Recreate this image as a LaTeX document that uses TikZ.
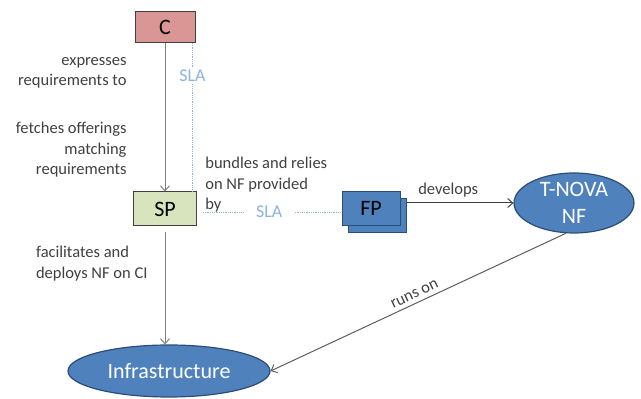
\documentclass[tikz,border=0pt]{standalone}
\usepackage{fontspec}
\setmainfont{Carlito}
\usetikzlibrary{shapes.geometric, arrows.meta, positioning}

\definecolor{custred}{HTML}{D99694}
\definecolor{spgreen}{HTML}{D7E4BD}
\definecolor{nfblue}{HTML}{4F81BD}
\definecolor{nfborder}{HTML}{2C4D75}
\definecolor{slablue}{HTML}{8DB3E2}
\definecolor{txtgray}{HTML}{404040}
\definecolor{arrgray}{HTML}{7F7F7F}

\begin{document}
\begin{tikzpicture} [x=1pt, y=1pt, thick, align=center, ->, >={Straight Barb[length=5pt,width=9pt]},
	box/.style={draw=txtgray, line width=1pt, minimum width=60pt, minimum height=31pt, inner sep=0pt, font=\fontsize{22}{27}\selectfont, text=black},
	blob/.style={ellipse, draw=nfborder, line width=1.2pt, fill=nfblue, text=white, inner sep=0pt, font=\fontsize{22}{27}\selectfont},
	lbl/.style={font=\fontsize{16.5}{20.5}\selectfont, text=txtgray, inner sep=2pt},
	sla/.style={-, slablue, densely dotted, line width=0.8pt},
	slatext/.style={font=\fontsize{18}{20}\selectfont, text=slablue, fill=white}]

\useasboundingbox (0,0) rectangle (641,399);

\node[box, fill=custred]	(c)	at (165,372)	{C};
\node[box, fill=spgreen, minimum width=63pt, minimum height=34pt]	(sp)	at (165,190)	{SP};
\node[box, fill=nfblue, draw=nfborder, minimum width=58pt, minimum height=34pt]	(fpback)	at (377,183.5)	{};
\node[box, fill=nfblue, draw=nfborder, minimum width=58pt, minimum height=34pt]	(fp)	at (371,190.5)	{FP};
\node[blob, minimum width=120pt, minimum height=60pt]	(tnova)	at (574,196)	{T-NOVA\\NF};
\node[blob, minimum width=202pt, minimum height=52pt]	(infra)	at (169,28)	{Infrastructure};

\path[->, arrgray, line width=1pt]
		(c)	edge		node	[lbl, pos=0.2, left=36pt, align=right]	{expresses\\requirements to}
				node	[lbl, pos=0.72, left=36pt, align=right]	{fetches offerings\\matching\\requirements}	(sp)
		(sp)	edge	[shorten <=6pt]	node	[lbl, pos=0.315, left=15pt, align=left]	{facilitates and\\deploys NF on CI}	(sp |- infra.north)
;

\path[->, txtgray, line width=1pt]
		(fpback.east |- tnova)	edge		node	[lbl, pos=0.39, above=3pt]	{develops}	(tnova)
;

\path[->, txtgray!85, line width=1pt]
		(tnova.255)	edge		node	[lbl, sloped, above=2pt]	{runs on}	(infra.east)
;

% SLA links
\draw[sla] ([xshift=-3pt]c.south east) -- ([xshift=-3pt]c.south east |- sp.north)
	node[slatext, pos=0.22, inner sep=2pt] {SLA};
\draw[sla, shorten <=6pt] ([yshift=-3pt]sp.east) -- ([yshift=-3pt]sp.east -| fp.west)
	node[slatext, pos=0.5, inner xsep=12pt, inner ysep=1pt] {SLA}
	node[lbl, pos=0, above right, xshift=6pt, yshift=-3pt, align=left] {bundles and relies\\on NF provided\\by};

\end{tikzpicture}
\end{document}
